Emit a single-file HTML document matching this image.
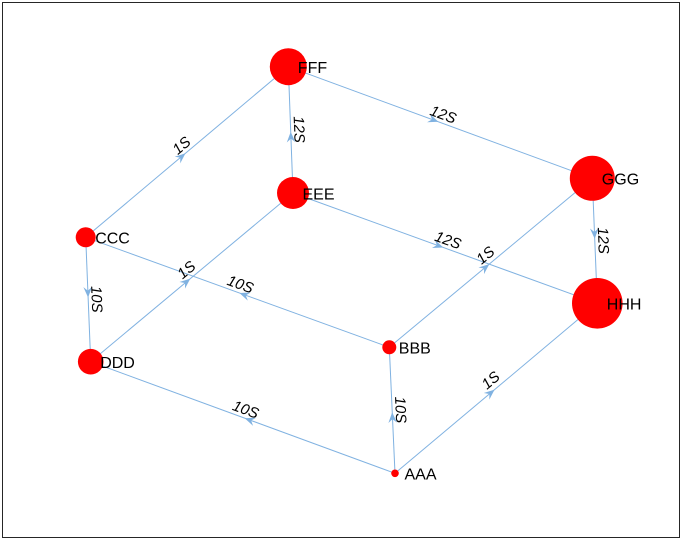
<!DOCTYPE html>
<html>
<head>
<meta charset="utf-8">
<style>
  html, body { margin:0; padding:0; background:#fff; }
  svg { display:block; }
  .e { stroke:#80b2e1; stroke-width:1; fill:none; }
  .a { fill:#80b2e1; stroke:none; }
  .n { fill:#ff0000; }
  .nl { font-family:"Liberation Sans", Arial, sans-serif; font-size:16px; fill:#000; }
  .el { font-family:"Liberation Sans", Arial, sans-serif; font-size:15px; font-style:italic; fill:#000; text-anchor:middle; }
</style>
</head>
<body>
<svg width="683" height="540" viewBox="0 0 683 540" xmlns="http://www.w3.org/2000/svg">
  <rect x="0" y="0" width="683" height="540" fill="#fff"/>
  <rect x="2.5" y="2.5" width="677" height="535" fill="none" stroke="#262626" stroke-width="1"/>

  <!-- edges -->
  <line class="e" x1="85.7" y1="237.3" x2="288.3" y2="66.7"/>
  <line class="e" x1="293" y1="193" x2="288.3" y2="66.7"/>
  <line class="e" x1="288.3" y1="66.7" x2="592.3" y2="178.3"/>
  <line class="e" x1="592.3" y1="178.3" x2="597.3" y2="303.3"/>
  <line class="e" x1="293" y1="193" x2="597.3" y2="303.3"/>
  <line class="e" x1="389.3" y1="347.3" x2="592.3" y2="178.3"/>
  <line class="e" x1="90.7" y1="361.7" x2="293" y2="193"/>
  <line class="e" x1="85.7" y1="237.3" x2="90.7" y2="361.7"/>
  <line class="e" x1="389.3" y1="347.3" x2="85.7" y2="237.3"/>
  <line class="e" x1="395" y1="473.3" x2="90.7" y2="361.7"/>
  <line class="e" x1="395" y1="473.3" x2="389.3" y2="347.3"/>
  <line class="e" x1="395" y1="473.3" x2="597.3" y2="303.3"/>

  <!-- arrowheads -->
  <g class="a">
    <path transform="translate(185.5,153.3) rotate(-40.1)" d="M0,0 L-10.5,-4.3 L-6.8,0 L-10.5,4.3 Z"/>
    <path transform="translate(290.7,131.85) rotate(-92.1)" d="M0,0 L-10.5,-4.3 L-6.8,0 L-10.5,4.3 Z"/>
    <path transform="translate(438.4,121.8) rotate(20.16)" d="M0,0 L-10.5,-4.3 L-6.8,0 L-10.5,4.3 Z"/>
    <path transform="translate(594.7,238.8) rotate(87.7)" d="M0,0 L-10.5,-4.3 L-6.8,0 L-10.5,4.3 Z"/>
    <path transform="translate(443.3,247.5) rotate(19.9)" d="M0,0 L-10.5,-4.3 L-6.8,0 L-10.5,4.3 Z"/>
    <path transform="translate(489.3,264.1) rotate(-39.8)" d="M0,0 L-10.5,-4.3 L-6.8,0 L-10.5,4.3 Z"/>
    <path transform="translate(190.3,278.6) rotate(-39.8)" d="M0,0 L-10.5,-4.3 L-6.8,0 L-10.5,4.3 Z"/>
    <path transform="translate(88.1,297.5) rotate(87.7)" d="M0,0 L-10.5,-4.3 L-6.8,0 L-10.5,4.3 Z"/>
    <path transform="translate(239.4,293) rotate(199.9)" d="M0,0 L-10.5,-4.3 L-6.8,0 L-10.5,4.3 Z"/>
    <path transform="translate(244.7,418.2) rotate(200.1)" d="M0,0 L-10.5,-4.3 L-6.8,0 L-10.5,4.3 Z"/>
    <path transform="translate(392.2,412.3) rotate(-92.6)" d="M0,0 L-10.5,-4.3 L-6.8,0 L-10.5,4.3 Z"/>
    <path transform="translate(494.6,389.6) rotate(-40)" d="M0,0 L-10.5,-4.3 L-6.8,0 L-10.5,4.3 Z"/>
  </g>

  <!-- nodes -->
  <circle class="n" cx="395" cy="473.3" r="3.8"/>
  <circle class="n" cx="389.3" cy="347.3" r="7"/>
  <circle class="n" cx="85.7" cy="237.3" r="10"/>
  <circle class="n" cx="90.7" cy="361.7" r="12.8"/>
  <circle class="n" cx="293" cy="193" r="16"/>
  <circle class="n" cx="288.3" cy="66.7" r="18.5"/>
  <circle class="n" cx="592.3" cy="178.3" r="22.5"/>
  <circle class="n" cx="597.3" cy="303.3" r="25.3"/>

  <!-- edge labels -->
  <text class="el" transform="translate(184.75,149.3) rotate(-40.1)">1S</text>
  <text class="el" transform="translate(294.15,129.7) rotate(87.9)">12S</text>
  <text class="el" transform="translate(441.5,119.2) rotate(20.16)">12S</text>
  <text class="el" transform="translate(598.3,240.7) rotate(87.7)">12S</text>
  <text class="el" transform="translate(446.3,244.9) rotate(19.9)">12S</text>
  <text class="el" transform="translate(488.6,259.1) rotate(-39.8)">1S</text>
  <text class="el" transform="translate(189.6,273.7) rotate(-39.8)">1S</text>
  <text class="el" transform="translate(91.7,299.4) rotate(87.7)">10S</text>
  <text class="el" transform="translate(238.7,289) rotate(19.9)">10S</text>
  <text class="el" transform="translate(244.05,414.2) rotate(20.1)">10S</text>
  <text class="el" transform="translate(395.65,410.1) rotate(87.4)">10S</text>
  <text class="el" transform="translate(493.9,384.1) rotate(-40)">1S</text>

  <!-- node labels -->
  <text class="nl" x="404.5" y="479.5">AAA</text>
  <text class="nl" x="398.8" y="353.5">BBB</text>
  <text class="nl" x="95.2" y="243.5">CCC</text>
  <text class="nl" x="100.2" y="368">DDD</text>
  <text class="nl" x="302.5" y="199.3">EEE</text>
  <text class="nl" x="297.8" y="73">FFF</text>
  <text class="nl" x="601.8" y="184.6">GGG</text>
  <text class="nl" x="606.8" y="309.6">HHH</text>
</svg>
</body>
</html>
